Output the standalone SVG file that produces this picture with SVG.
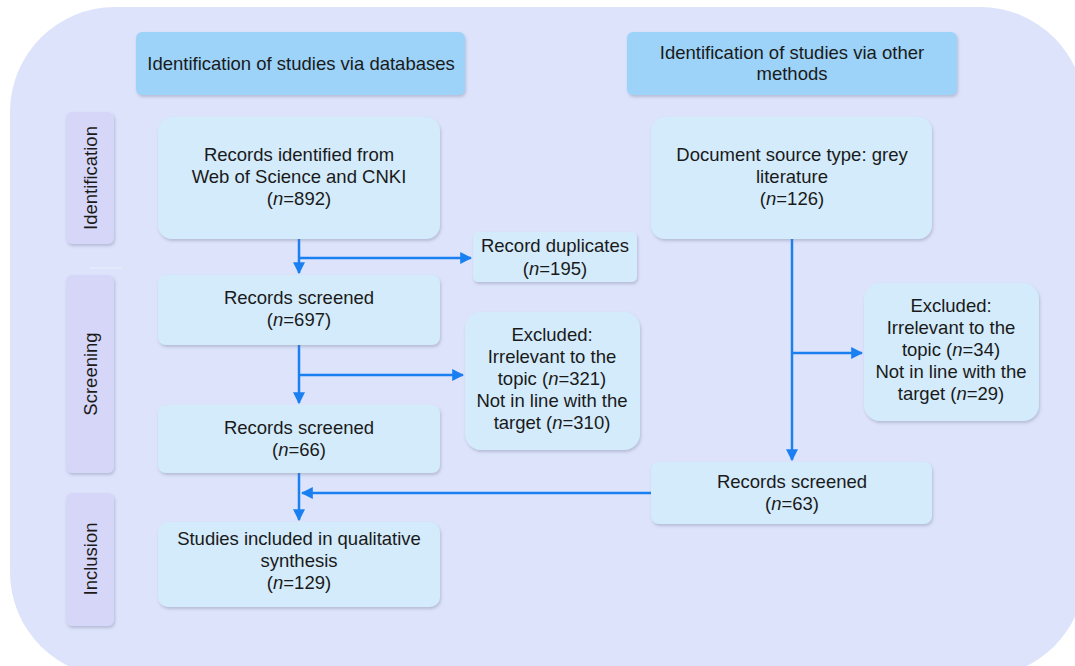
<svg xmlns="http://www.w3.org/2000/svg" width="1075" height="666" viewBox="0 0 1075 666">
  <defs>
    <filter id="shadow" x="-10%" y="-10%" width="120%" height="130%">
      <feDropShadow dx="1" dy="2" stdDeviation="1.5" flood-color="#6b7391" flood-opacity="0.35"/>
    </filter>
    <marker id="arrow" viewBox="0 0 10 10" refX="9" refY="5" markerWidth="12" markerHeight="12" markerUnits="userSpaceOnUse" orient="auto">
      <path d="M0,0 L10,5 L0,10 z" fill="#1a80f2"/>
    </marker>
  </defs>
  <style>
    text { font-family: "Liberation Sans", Arial, sans-serif; font-size: 18.5px; fill: #1a1a1a; text-anchor: middle; }
    .node { fill: #d3ebfb; filter: url(#shadow); }
    .head { fill: #9dd3f8; filter: url(#shadow); }
    .phase { fill: #d6d6f8; filter: url(#shadow); }
    .conn { stroke: #1a80f2; stroke-width: 2.5; fill: none; }
    .it { font-style: italic; }
  </style>

  <!-- backdrop -->
  <rect x="10" y="7" width="1075" height="670" rx="105" ry="105" fill="#dde3fb"/>
  <line x1="90" y1="268" x2="121" y2="268" stroke="#eceffd" stroke-width="1"/>

  <!-- column headers -->
  <g id="head-databases">
    <rect class="head" x="136" y="32" width="329" height="63" rx="6"/>
    <text x="301" y="70">Identification of studies via databases</text>
  </g>
  <g id="head-other">
    <rect class="head" x="627" y="32" width="330" height="63" rx="6"/>
    <text x="792" y="59">Identification of studies via other</text>
    <text x="792" y="80">methods</text>
  </g>

  <!-- phase labels -->
  <g id="phase-identification">
    <rect class="phase" x="66" y="112" width="48" height="132" rx="6"/>
    <text transform="translate(97,178) rotate(-90)">Identification</text>
  </g>
  <g id="phase-screening">
    <rect class="phase" x="66" y="275" width="48" height="198" rx="6"/>
    <text transform="translate(97,374) rotate(-90)">Screening</text>
  </g>
  <g id="phase-inclusion">
    <rect class="phase" x="66" y="493" width="48" height="133" rx="6"/>
    <text transform="translate(97,559) rotate(-90)">Inclusion</text>
  </g>

  <!-- connectors -->
  <g id="connectors">
    <path class="conn" d="M299,239 V273" marker-end="url(#arrow)"/>
    <path class="conn" d="M299,258 H471" marker-end="url(#arrow)"/>
    <path class="conn" d="M299,345 V403" marker-end="url(#arrow)"/>
    <path class="conn" d="M299,375 H463" marker-end="url(#arrow)"/>
    <path class="conn" d="M299,473 V520" marker-end="url(#arrow)"/>
    <path class="conn" d="M651,493 H302" marker-end="url(#arrow)"/>
    <path class="conn" d="M792,239 V460" marker-end="url(#arrow)"/>
    <path class="conn" d="M792,353 H862" marker-end="url(#arrow)"/>
  </g>

  <!-- left column -->
  <g id="records-identified">
    <rect class="node" x="158" y="117" width="282" height="122" rx="14"/>
    <text x="299" y="161">Records identified from</text>
    <text x="299" y="183">Web of Science and CNKI</text>
    <text x="299" y="205">(<tspan class="it">n</tspan>=892)</text>
  </g>
  <g id="record-duplicates">
    <rect class="node" x="473" y="232" width="164" height="50" rx="5"/>
    <text x="555" y="252">Record duplicates</text>
    <text x="555" y="275">(<tspan class="it">n</tspan>=195)</text>
  </g>
  <g id="records-screened-697">
    <rect class="node" x="158" y="275" width="282" height="70" rx="8"/>
    <text x="299" y="304">Records screened</text>
    <text x="299" y="326">(<tspan class="it">n</tspan>=697)</text>
  </g>
  <g id="excluded-left">
    <rect class="node" x="465" y="312" width="175" height="138" rx="16"/>
    <text x="552" y="341">Excluded:</text>
    <text x="552" y="363">Irrelevant to the</text>
    <text x="552" y="385">topic (<tspan class="it">n</tspan>=321)</text>
    <text x="552" y="407">Not in line with the</text>
    <text x="552" y="429">target (<tspan class="it">n</tspan>=310)</text>
  </g>
  <g id="records-screened-66">
    <rect class="node" x="158" y="405" width="282" height="68" rx="8"/>
    <text x="299" y="434">Records screened</text>
    <text x="299" y="456">(<tspan class="it">n</tspan>=66)</text>
  </g>
  <g id="studies-included">
    <rect class="node" x="158" y="522" width="282" height="85" rx="10"/>
    <text x="299" y="545">Studies included in qualitative</text>
    <text x="299" y="567">synthesis</text>
    <text x="299" y="589">(<tspan class="it">n</tspan>=129)</text>
  </g>

  <!-- right column -->
  <g id="document-source">
    <rect class="node" x="651" y="117" width="281" height="122" rx="14"/>
    <text x="792" y="161">Document source type: grey</text>
    <text x="792" y="183">literature</text>
    <text x="792" y="205">(<tspan class="it">n</tspan>=126)</text>
  </g>
  <g id="excluded-right">
    <rect class="node" x="864" y="283" width="175" height="138" rx="16"/>
    <text x="951" y="312">Excluded:</text>
    <text x="951" y="334">Irrelevant to the</text>
    <text x="951" y="356">topic (<tspan class="it">n</tspan>=34)</text>
    <text x="951" y="378">Not in line with the</text>
    <text x="951" y="400">target (<tspan class="it">n</tspan>=29)</text>
  </g>
  <g id="records-screened-63">
    <rect class="node" x="651" y="462" width="281" height="62" rx="8"/>
    <text x="792" y="488">Records screened</text>
    <text x="792" y="510">(<tspan class="it">n</tspan>=63)</text>
  </g>
</svg>
